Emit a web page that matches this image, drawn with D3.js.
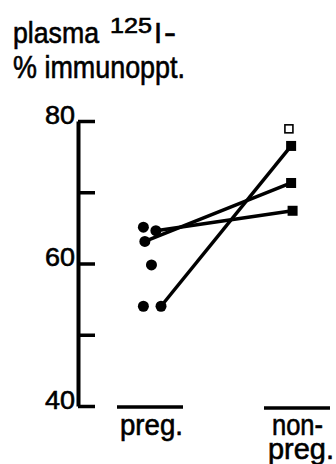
<!DOCTYPE html>
<html>
<head>
<meta charset="utf-8">
<script src="https://cdn.jsdelivr.net/npm/d3@7"></script>
<style>
  body { margin: 0; background: #fff; }
  svg text { font-family: "Liberation Sans", Arial, Helvetica, sans-serif; fill: #000;
             stroke: #000; stroke-width: 0.6px; }
</style>
</head>
<body>
<svg id="chart" width="336" height="464"></svg>
<script>
// groups along the x axis (0 = pregnant, 1 = non-pregnant)
var groups = ["preg.", "non-preg."];

// y axis ticks and labels
var yTicks  = [40, 50, 60, 70, 80];
var yLabels = [40, 60, 80];

// pregnant values (% immunoprecipitable), with small horizontal offset
var pregVals = [65.1, 64.6, 63.1, 59.8, 54.0, 54.0];
var pregPos  = [-0.045, 0.04, -0.035, 0.01, -0.045, 0.075];

// non-pregnant values, filled squares
var nonVals = [76.5, 71.3, 67.4];
var nonPos  = [-0.04, -0.04, -0.03];

// non-pregnant value, open square
var openVals = [78.9];
var openPos  = [-0.055];

// paired animals: index into pregVals -> index into nonVals
var pairs = [[5, 0], [2, 1], [1, 2]];

var svg = d3.select("#chart");

var x = d3.scaleLinear().domain([0, 1]).range([150, 297]);
var y = d3.scaleLinear().domain([40, 80]).range([406, 121]);

// helper: squeezed text, the original face is a narrow grotesque
function label(str, x0, y0, size, len) {
  var t = svg.append("text")
    .attr("x", x0).attr("y", y0)
    .style("font-size", size + "px")
    .text(str);
  if (len) t.attr("textLength", len).attr("lengthAdjust", "spacingAndGlyphs");
  return t;
}

// title
label("plasma", 13, 43, 30, 86);
label("125", 110, 33, 22, 42);
label("I", 154, 43, 29);
label("-", 164, 43, 29, 12);
label("% immunoppt.", 13, 78, 31, 172);

// y axis: ticks to the right, labels to the left
var axisX = 78;

var yAxis = svg.append("g")
  .attr("transform", "translate(" + axisX + ",0)")
  .call(d3.axisRight(y)
    .tickValues(yTicks)
    .tickSize(17)
    .tickSizeOuter(0)
    .tickFormat(""));

yAxis.select(".domain")
  .attr("stroke", "#000")
  .attr("stroke-width", 4);
yAxis.selectAll(".tick line")
  .attr("stroke", "#000")
  .attr("stroke-width", 3.5);

svg.selectAll(".ylab")
  .data(yLabels)
  .enter().append("text")
  .attr("class", "ylab")
  .attr("x", axisX - 3)
  .attr("y", function(d) { return y(d) + 2.5; })
  .attr("text-anchor", "end")
  .attr("textLength", 30)
  .attr("lengthAdjust", "spacingAndGlyphs")
  .style("font-size", "26px")
  .text(function(d) { return d; });

// group bars and labels
var barW = 66;
svg.selectAll(".gbar")
  .data(groups)
  .enter().append("line")
  .attr("class", "gbar")
  .attr("x1", function(d, i) { return x(i) - barW / 2; })
  .attr("x2", function(d, i) { return x(i) + barW / 2; })
  .attr("y1", function(d, i) { return y(40) + 1 + i; })
  .attr("y2", function(d, i) { return y(40) + 1 + i; })
  .attr("stroke", "#000")
  .attr("stroke-width", 3.5);

label("preg.", x(0) - 30, 435, 29, 63);
label("non-", x(1) - 25, 435, 29, 51);
label("preg.", x(1) - 29, 459, 29, 66);

// connecting lines for paired values
svg.selectAll(".pair")
  .data(pairs)
  .enter().append("line")
  .attr("class", "pair")
  .attr("x1", function(d) { return x(pregPos[d[0]]); })
  .attr("y1", function(d) { return y(pregVals[d[0]]); })
  .attr("x2", function(d) { return x(1 + nonPos[d[1]]); })
  .attr("y2", function(d) { return y(nonVals[d[1]]); })
  .attr("stroke", "#000")
  .attr("stroke-width", 3.5);

// pregnant dots
svg.selectAll(".dot")
  .data(pregVals)
  .enter().append("circle")
  .attr("class", "dot")
  .attr("cx", function(d, i) { return x(pregPos[i]); })
  .attr("cy", function(d) { return y(d); })
  .attr("r", 5.5)
  .attr("fill", "#000");

// non-pregnant squares
var sq = 10;
svg.selectAll(".sq")
  .data(nonVals)
  .enter().append("rect")
  .attr("class", "sq")
  .attr("x", function(d, i) { return x(1 + nonPos[i]) - sq / 2; })
  .attr("y", function(d) { return y(d) - sq / 2; })
  .attr("width", sq).attr("height", sq)
  .attr("fill", "#000");

var osq = 8;
svg.selectAll(".osq")
  .data(openVals)
  .enter().append("rect")
  .attr("class", "osq")
  .attr("x", function(d, i) { return x(1 + openPos[i]) - osq / 2; })
  .attr("y", function(d) { return y(d) - osq / 2; })
  .attr("width", osq).attr("height", osq)
  .attr("fill", "#fff")
  .attr("stroke", "#000")
  .attr("stroke-width", 1.6);
</script>
</body>
</html>
